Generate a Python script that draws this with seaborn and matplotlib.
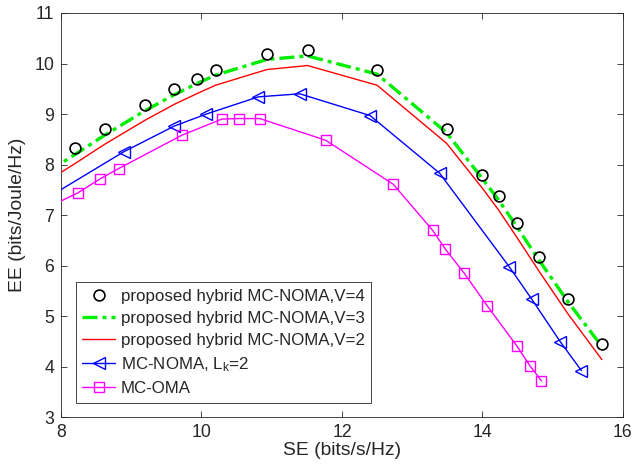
import numpy as np
import pandas as pd
import seaborn as sns
import matplotlib
matplotlib.use("Agg")
import matplotlib.pyplot as plt

# data
se_v4 = [8.20, 8.62, 9.20, 9.61, 9.93, 10.20, 10.93, 11.51, 12.50, 13.49, 14.00, 14.23, 14.49, 14.81, 15.22, 15.70]
ee_v4 = [8.33, 8.70, 9.18, 9.49, 9.70, 9.87, 10.18, 10.27, 9.87, 8.70, 7.79, 7.37, 6.84, 6.17, 5.34, 4.44]

se_v3 = [7.80, 8.20, 8.62, 9.20, 9.61, 9.93, 10.20, 10.93, 11.51, 12.50, 13.49, 14.00, 14.23, 14.49, 14.81, 15.22, 15.70]
ee_v3 = [7.85, 8.20, 8.58, 9.07, 9.38, 9.60, 9.77, 10.08, 10.15, 9.79, 8.63, 7.72, 7.30, 6.77, 6.10, 5.28, 4.40]

se_v2 = [7.80, 8.20, 8.62, 9.20, 9.61, 9.93, 10.20, 10.93, 11.51, 12.50, 13.49, 14.00, 14.23, 14.49, 14.81, 15.22, 15.70]
ee_v2 = [7.67, 8.02, 8.40, 8.88, 9.19, 9.40, 9.57, 9.88, 9.96, 9.57, 8.42, 7.53, 7.10, 6.56, 5.88, 5.04, 4.14]

se_noma = [7.90, 8.89, 9.61, 10.07, 10.81, 11.40, 12.40, 13.39, 14.38, 14.70, 15.11, 15.41]
ee_noma = [7.42, 8.25, 8.76, 9.00, 9.34, 9.40, 8.97, 7.83, 5.98, 5.34, 4.49, 3.92]

se_oma = [7.90, 8.24, 8.56, 8.82, 9.72, 10.29, 10.53, 10.83, 11.77, 12.73, 13.29, 13.47, 13.74, 14.07, 14.49, 14.68, 14.84]
ee_oma = [7.21, 7.44, 7.72, 7.92, 8.58, 8.90, 8.91, 8.91, 8.48, 7.61, 6.70, 6.33, 5.85, 5.20, 4.41, 4.01, 3.72]

labels = ["proposed hybrid MC-NOMA,V=4", "proposed hybrid MC-NOMA,V=3",
          "proposed hybrid MC-NOMA,V=2", "MC-NOMA, L$_k$=2", "MC-OMA"]

sns.set_style("ticks")
plt.rcParams["font.family"] = ["Liberation Sans", "DejaVu Sans"]
plt.rcParams["mathtext.fontset"] = "custom"
plt.rcParams["mathtext.rm"] = "Liberation Sans"
plt.rcParams["mathtext.it"] = "Liberation Sans"

fig = plt.figure(figsize=(6.33, 4.74), dpi=100)
ax = fig.add_axes([0.0964, 0.120, 0.8876, 0.8526])

ax.plot(se_v4, ee_v4, linestyle="none", marker="o", markersize=7.8,
        markerfacecolor="none", markeredgecolor="black", markeredgewidth=1.2,
        label=labels[0], zorder=5)
sns.lineplot(x=se_v3, y=ee_v3, sort=False, estimator=None, ax=ax, color="#00ee00",
             linewidth=2.4, linestyle=(0, (4.5, 1.5, 1.2, 1.5)), label=labels[1], zorder=4)
sns.lineplot(x=se_v2, y=ee_v2, sort=False, estimator=None, ax=ax, color="red",
             linewidth=1.0, label=labels[2], zorder=3)
sns.lineplot(x=se_noma, y=ee_noma, sort=False, estimator=None, ax=ax, color="blue",
             linewidth=1.0, marker="<", markersize=9, markerfacecolor="none",
             markeredgecolor="blue", markeredgewidth=1.0, label=labels[3], zorder=3)
sns.lineplot(x=se_oma, y=ee_oma, sort=False, estimator=None, ax=ax, color="magenta",
             linewidth=1.0, marker="s", markersize=6.5, markerfacecolor="none",
             markeredgecolor="magenta", markeredgewidth=1.0, label=labels[4], zorder=3)

ax.set_xlim(8, 16)
ax.set_ylim(3, 11)
ax.set_xticks([8, 10, 12, 14, 16])
ax.set_yticks(range(3, 12))
ax.set_xlabel("SE (bits/s/Hz)", fontsize=13.9, labelpad=1)
ax.set_ylabel("EE (bits/Joule/Hz)", fontsize=13.9, labelpad=6)
ax.tick_params(direction="in", top=True, right=True, labelsize=12.7, length=4,
               color="#262626", width=0.6, pad=5)
for s in ax.spines.values():
    s.set_color("#262626")
    s.set_linewidth(0.6)

leg = ax.legend(loc="lower left", bbox_to_anchor=(0.026, 0.035), fontsize=12.2,
                frameon=True, fancybox=False, edgecolor="#262626", framealpha=1,
                handlelength=1.95, handletextpad=0.3, borderpad=0.4,
                labelspacing=0.42, borderaxespad=0)
leg.get_frame().set_linewidth(0.6)

fig.savefig("out.png", dpi=100)
